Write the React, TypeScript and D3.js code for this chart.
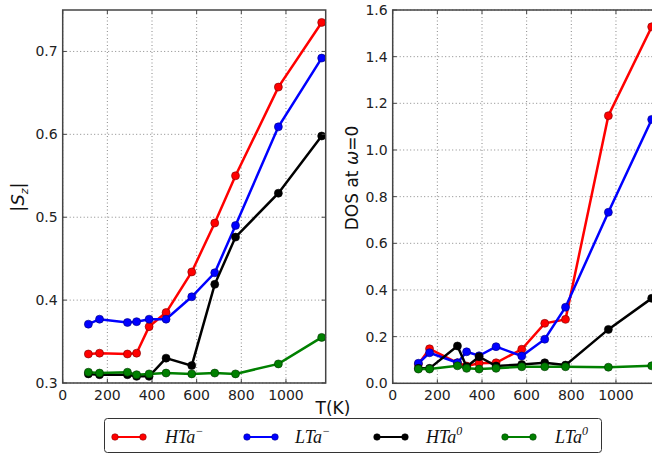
import React from "react";
import * as d3 from "d3";

// temperatures (K)
const temps = [115, 165, 290, 331, 387, 463, 578, 681, 774, 966, 1160];

// |S_z| panel
const szHTaM = [0.335, 0.336, 0.335, 0.336, 0.368, 0.385, 0.434, 0.493, 0.55, 0.657, 0.735];
const szLTaM = [0.371, 0.377, 0.373, 0.374, 0.377, 0.377, 0.404, 0.433, 0.49, 0.609, 0.692];
const szHTa0 = [0.311, 0.31, 0.31, 0.308, 0.308, 0.33, 0.321, 0.419, 0.476, 0.529, 0.598];
const szLTa0 = [0.313, 0.312, 0.313, 0.31, 0.311, 0.312, 0.311, 0.312, 0.311, 0.323, 0.355];

// DOS at w=0 panel
const dosHTaM = [0.082, 0.148, 0.088, 0.074, 0.086, 0.088, 0.146, 0.257, 0.274, 1.147, 1.528];
const dosLTaM = [0.086, 0.131, 0.088, 0.135, 0.118, 0.157, 0.117, 0.189, 0.326, 0.733, 1.131];
const dosHTa0 = [0.064, 0.064, 0.16, 0.071, 0.114, 0.074, 0.081, 0.088, 0.078, 0.231, 0.364];
const dosLTa0 = [0.061, 0.061, 0.075, 0.064, 0.061, 0.064, 0.071, 0.071, 0.071, 0.069, 0.075];

const xTicks = [0, 200, 400, 600, 800, 1000];
const szTicks = [0.3, 0.4, 0.5, 0.6, 0.7];
const dosTicks = [0, 0.2, 0.4, 0.6, 0.8, 1.0, 1.2, 1.4, 1.6];

const colors = ["#ff0000", "#0000ff", "#000000", "#008000"];
const edges = ["#7a0000", "#00007a", "#000000", "#003300"];
const names = [
  { base: "HTa", sup: "\u2212" },
  { base: "LTa", sup: "\u2212" },
  { base: "HTa", sup: "0" },
  { base: "LTa", sup: "0" },
];

const FONT = "DejaVu Sans, sans-serif";

type PanelProps = {
  left: number;
  right: number;
  top: number;
  bottom: number;
  yDomain: [number, number];
  yTicks: number[];
  yFmt: (v: number) => string;
  series: number[][];
};

const Panel = ({ left, right, top, bottom, yDomain, yTicks, yFmt, series }: PanelProps) => {
  const x = d3.scaleLinear().domain([0, 1178]).range([left, right]);
  const y = d3.scaleLinear().domain(yDomain).range([bottom, top]);
  const line = d3
    .line<number>()
    .x((_, i) => x(temps[i]))
    .y((d) => y(d));

  return (
    <g>
      {/* grid */}
      {xTicks.map((t) => (
        <line key={"gx" + t} x1={x(t)} x2={x(t)} y1={top} y2={bottom}
          stroke="#888" strokeWidth={1} strokeDasharray="1,2.5" />
      ))}
      {yTicks.map((t) => (
        <line key={"gy" + t} x1={left} x2={right} y1={y(t)} y2={y(t)}
          stroke="#888" strokeWidth={1} strokeDasharray="1,2.5" />
      ))}
      {/* series */}
      {series.map((s, k) => (
        <g key={"s" + k}>
          <path d={line(s) || ""} fill="none" stroke={colors[k]} strokeWidth={2.5} />
          {s.map((v, i) => (
            <circle key={i} cx={x(temps[i])} cy={y(v)} r={4} fill={colors[k]}
              stroke={edges[k]} strokeWidth={0.6} />
          ))}
        </g>
      ))}
      {/* frame */}
      <rect x={left} y={top} width={right - left} height={bottom - top}
        fill="none" stroke="#444" strokeWidth={1.5} />
      {/* ticks */}
      {xTicks.map((t) => (
        <g key={"tx" + t}>
          <line x1={x(t)} x2={x(t)} y1={bottom} y2={bottom - 4} stroke="#444" />
          <line x1={x(t)} x2={x(t)} y1={top} y2={top + 4} stroke="#444" />
          <text x={x(t)} y={bottom + 17} textAnchor="middle" fontSize={14}
            fontFamily={FONT} fill="#222">{t}</text>
        </g>
      ))}
      {yTicks.map((t) => (
        <g key={"ty" + t}>
          <line x1={left} x2={left + 4} y1={y(t)} y2={y(t)} stroke="#444" />
          <line x1={right} x2={right - 4} y1={y(t)} y2={y(t)} stroke="#444" />
          <text x={left - 5} y={y(t) + 5} textAnchor="end" fontSize={14}
            fontFamily={FONT} fill="#222">{yFmt(t)}</text>
        </g>
      ))}
    </g>
  );
};

export default function App() {
  const legendItems = [
    { x0: 115, tx: 165 },
    { x0: 247, tx: 295 },
    { x0: 377, tx: 426 },
    { x0: 505, tx: 555 },
  ];
  const ly = 437;

  return (
    <svg width={652} height={455}
      style={{ position: "absolute", left: 0, top: 0, background: "#fff", overflow: "hidden" }}>
      <Panel left={62.7} right={325.7} top={10} bottom={383}
        yDomain={[0.3, 0.75]} yTicks={szTicks} yFmt={d3.format(".1f")}
        series={[szHTaM, szLTaM, szHTa0, szLTa0]} />
      <Panel left={392.7} right={655.7} top={10} bottom={383.3}
        yDomain={[0, 1.6]} yTicks={dosTicks} yFmt={d3.format(".1f")}
        series={[dosHTaM, dosLTaM, dosHTa0, dosLTa0]} />

      {/* axis labels */}
      <text transform="translate(24,197) rotate(-90)" textAnchor="middle"
        fontSize={18} fontFamily={FONT} fill="#111">
        |<tspan fontStyle="italic">S</tspan>
        <tspan fontStyle="italic" fontSize={11} dy={4}>z</tspan>
        <tspan dy={-4}>|</tspan>
      </text>
      <text transform="translate(358,178) rotate(-90)" textAnchor="middle"
        fontSize={17} fontFamily={FONT} fill="#111">
        DOS at <tspan fontStyle="italic">ω</tspan>=0
      </text>
      <text x={333} y={414} textAnchor="middle" fontSize={17} fontFamily={FONT} fill="#111">
        T(K)
      </text>

      {/* legend */}
      <rect x={104.5} y={418.5} width={497} height={34} rx={3} fill="#fff"
        stroke="#333" strokeWidth={1} />
      {legendItems.map((it, k) => (
        <g key={"lg" + k}>
          <line x1={it.x0} x2={it.x0 + 28} y1={ly} y2={ly} stroke={colors[k]} strokeWidth={2} />
          <circle cx={it.x0} cy={ly} r={3.3} fill={colors[k]} stroke={edges[k]} strokeWidth={0.5} />
          <circle cx={it.x0 + 28} cy={ly} r={3.3} fill={colors[k]} stroke={edges[k]} strokeWidth={0.5} />
          <text x={it.tx} y={ly + 6} fontSize={18} fontStyle="italic"
            fontFamily="Liberation Serif, serif" fill="#111">
            {names[k].base}
            <tspan fontSize={12} dy={-8}>{names[k].sup}</tspan>
          </text>
        </g>
      ))}
    </svg>
  );
}
